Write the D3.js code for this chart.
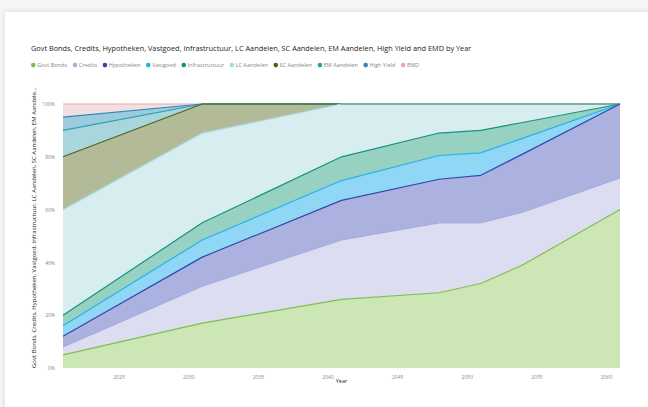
<!DOCTYPE html>
<html>
<head>
<meta charset="utf-8">
<script src="https://cdn.jsdelivr.net/npm/d3@7"></script>
<style>
  html, body { margin: 0; padding: 0; background: #f5f6f8; overflow: hidden; }
  #chart { width: 648px; height: 407px; }
  text { font-family: "Open Sans", "DejaVu Sans", sans-serif; }
</style>
</head>
<body>
<div id="chart"></div>
<script>
const years = [2021, 2031, 2041, 2048, 2051, 2054, 2061];
const govtBonds = [5, 17, 26, 28.5, 32, 39, 60];
const credits = [3, 14, 22.5, 26.5, 23, 20, 12];
const hypotheken = [4, 11, 15, 16.5, 18, 22, 28];
const vastgoed = [4, 6.5, 7.5, 9, 8.5, 6, 0];
const infrastructuur = [4, 6.5, 9, 8.5, 8.5, 6, 0];
const lcAandelen = [40, 34, 20, 11, 10, 7, 0];
const scAandelen = [20, 11, 0, 0, 0, 0, 0];
const emAandelen = [10, 0, 0, 0, 0, 0, 0];
const highYield = [5, 0, 0, 0, 0, 0, 0];
const emd = [5, 0, 0, 0, 0, 0, 0];

const seriesNames = ["Govt Bonds", "Credits", "Hypotheken", "Vastgoed", "Infrastructuur",
    "LC Aandelen", "SC Aandelen", "EM Aandelen", "High Yield", "EMD"];
const seriesValues = [govtBonds, credits, hypotheken, vastgoed, infrastructuur,
    lcAandelen, scAandelen, emAandelen, highYield, emd];
const xTicks = [2025, 2030, 2035, 2040, 2045, 2050, 2055, 2060];
const yTicks = [0, 0.2, 0.4, 0.6, 0.8, 1];

// line colours and area fills
const lineColors = ["#7cc04e", "#a9abe0", "#3544b0", "#27b0ec", "#14937a",
    "#a6d9de", "#4b6514", "#2aa0ae", "#2f86bd", "#e9a9b0"];
const fillColors = ["#cde6b6", "#dcddf1", "#acb2df", "#8fd7f4", "#96d1c1",
    "#d8edef", "#b3ba98", "#a8d6dc", "#9ccbe0", "#f2dfe2"];

const width = 648, height = 407;
const margin = { left: 63, right: 28, top: 104, bottom: 39 };

const svg = d3.select("#chart").append("svg")
    .attr("width", width)
    .attr("height", height);

// card
svg.append("defs").append("filter")
    .attr("id", "shadow")
    .attr("x", "-5%").attr("y", "-5%").attr("width", "110%").attr("height", "110%")
    .append("feDropShadow")
    .attr("dx", 0).attr("dy", 0).attr("stdDeviation", 2.5)
    .attr("flood-color", "#000").attr("flood-opacity", 0.14);

svg.append("rect")
    .attr("x", 5).attr("y", 12)
    .attr("width", 700).attr("height", 450)
    .attr("fill", "#fff")
    .attr("filter", "url(#shadow)");

const table = years.map((yr, i) => {
    const row = { year: yr };
    seriesNames.forEach((n, j) => row[n] = seriesValues[j][i]);
    return row;
});

const stack = d3.stack()
    .keys(seriesNames)
    .offset(d3.stackOffsetExpand);
const layers = stack(table);

const x = d3.scaleLinear()
    .domain([2021, 2061])
    .range([margin.left, width - margin.right]);
const y = d3.scaleLinear()
    .domain([0, 1])
    .range([height - margin.bottom, margin.top]);

const area = d3.area()
    .x(d => x(d.data.year))
    .y0(d => y(d[0]))
    .y1(d => y(d[1]));
const line = d3.line()
    .x(d => x(d.data.year))
    .y(d => y(d[1]));

const g = svg.append("g");

g.selectAll("path.area")
    .data(layers)
    .enter()
    .append("path")
    .attr("class", "area")
    .attr("d", area)
    .attr("fill", (d, i) => fillColors[i])
    .attr("stroke", "none");

g.selectAll("path.line")
    .data(layers.slice().reverse())
    .enter()
    .append("path")
    .attr("class", "line")
    .attr("d", line)
    .attr("fill", "none")
    .attr("stroke", d => lineColors[d.index])
    .attr("stroke-width", 1.2)
    .attr("stroke-linejoin", "round");

// axes
const xAxis = svg.append("g")
    .attr("transform", `translate(0,${height - margin.bottom})`)
    .call(d3.axisBottom(x).tickValues(xTicks).tickFormat(d3.format("d")).tickSize(0).tickPadding(7));
xAxis.select(".domain").remove();
xAxis.selectAll("text").attr("fill", "#8a8886").style("font-size", "5px");

const yAxis = svg.append("g")
    .attr("transform", `translate(${margin.left - 8},0)`)
    .call(d3.axisLeft(y).tickValues(yTicks).tickFormat(d3.format(".0%")).tickSize(0).tickPadding(0));
yAxis.select(".domain").remove();
yAxis.selectAll("text").attr("fill", "#8a8886").style("font-size", "5px");

svg.append("text")
    .attr("x", (margin.left + width - margin.right) / 2)
    .attr("y", 383)
    .attr("text-anchor", "middle")
    .attr("fill", "#252423")
    .style("font-size", "5.5px")
    .text("Year");

// y axis title, cut off like the original
const yTitle = svg.append("text")
    .attr("transform", `translate(36,${height - margin.bottom}) rotate(-90)`)
    .attr("fill", "#252423")
    .style("font-size", "6px")
    .text("Govt Bonds, Credits, Hypotheken, Vastgoed, Infrastructuur, LC Aandelen, SC Aandelen, EM Aandelen, High Yield and EMD");
const maxLen = 284;
let full = yTitle.text();
while (yTitle.node().getComputedTextLength() > maxLen && full.length > 3) {
    full = full.slice(0, -1);
    yTitle.text(full.trim() + "...");
}

// title
svg.append("text")
    .attr("x", 31)
    .attr("y", 51)
    .attr("fill", "#252423")
    .style("font-size", "7.35px")
    .text("Govt Bonds, Credits, Hypotheken, Vastgoed, Infrastructuur, LC Aandelen, SC Aandelen, EM Aandelen, High Yield and EMD by Year");

// legend
const legend = svg.append("g").attr("transform", "translate(31,67)");
let lx = 0;
seriesNames.forEach((name, i) => {
    legend.append("circle")
        .attr("cx", lx + 2.3)
        .attr("cy", -1.9)
        .attr("r", 2.3)
        .attr("fill", lineColors[i]);
    const t = legend.append("text")
        .attr("x", lx + 6)
        .attr("y", 0)
        .attr("fill", "#8a8886")
        .style("font-size", "5.6px")
        .text(name);
    lx += 6 + t.node().getComputedTextLength() + 5.5;
});
</script>
</body>
</html>
